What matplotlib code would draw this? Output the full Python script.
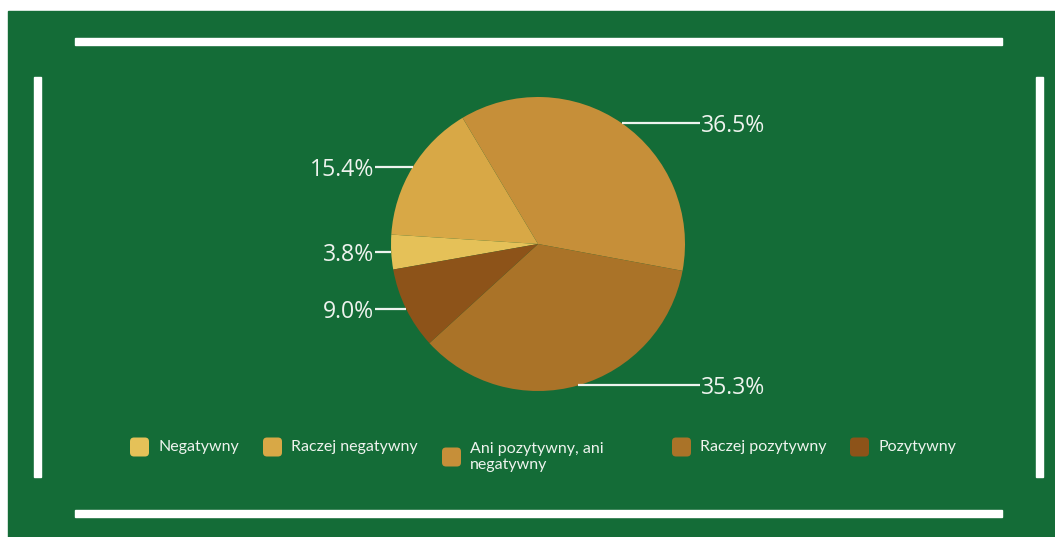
import numpy as np
import matplotlib.pyplot as plt
from matplotlib.patches import Rectangle, FancyBboxPatch

# ─── DATA ─────────────────────────────────────────────────
labels = ['Negatywny', 'Raczej negatywny', 'Ani pozytywny, ani\nnegatywny',
          'Raczej pozytywny', 'Pozytywny']
values = [3.8, 15.4, 36.5, 35.3, 9.0]
colors = ['#e5c158', '#d8a846', '#c68f39', '#aa7328', '#8d5319']

# ─── LAYOUT (pixels, origin bottom-left) ──────────────────
W, H = 1055, 537
GREEN = '#146c37'
TXT = '#eef3ee'
cx, cy, r = 538, H - 244, 147

fig = plt.figure(figsize=(W / 100, H / 100), dpi=100, facecolor='white')
ax = fig.add_axes([0, 0, 1, 1])

# background panel + white frame bars
ax.add_patch(Rectangle((8, 0), W - 8, H - 11, color=GREEN, zorder=0))
for x, y, w, h in [(75, H - 45, 927, 7), (75, H - 517, 927, 7),
                   (33.5, H - 477, 7, 400), (1035.5, H - 477, 7, 400)]:
    ax.add_patch(Rectangle((x, y), w, h, color='white', zorder=0.5))

# ─── PIE ──────────────────────────────────────────────────
wedges, _ = ax.pie(values, colors=colors, startangle=190, counterclock=False,
                   center=(cx, cy), radius=r, wedgeprops=dict(linewidth=0))

for wdg, v in zip(wedges, values):
    ang = np.deg2rad((wdg.theta1 + wdg.theta2) / 2)
    x0, y0 = cx + r * np.cos(ang), cy + r * np.sin(ang)
    if np.cos(ang) > 0:
        x1, tx, ha = cx + 162, cx + 163, 'left'
    else:
        x1, tx, ha = cx - 163, cx - 164, 'right'
    ax.plot([x0, x1], [y0, y0], color=TXT, lw=1.6, solid_capstyle='butt')
    ax.text(tx, y0, f'{v:.1f}%', ha=ha, va='center_baseline', fontsize=16.6,
            family='Open Sans', color=TXT)

# ─── LEGEND (drawn by hand) ───────────────────────────────
leg_x = [130, 263, 442, 672, 850]
for lbl, col, lx in zip(labels, colors, leg_x):
    ly = 457 if '\n' in lbl else 447
    ax.add_patch(FancyBboxPatch((lx, H - ly - 9.5), 19, 19,
                                boxstyle='round,pad=0,rounding_size=4',
                                color=col, lw=0))
    ax.text(lx + 28, H - ly, lbl, ha='left', va='center', fontsize=11.5,
            family='Lato', color=TXT, linespacing=1.2)

ax.set_xlim(0, W)
ax.set_ylim(0, H)
ax.set_aspect('equal')
ax.axis('off')

fig.savefig('out.png', dpi=100, facecolor='white')
